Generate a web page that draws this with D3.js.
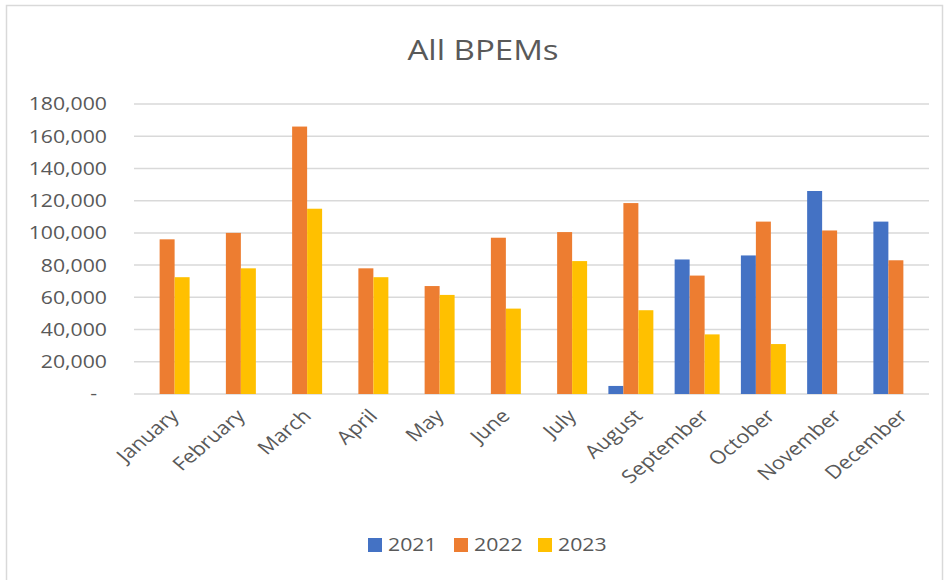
<!DOCTYPE html>
<html>
<head>
<meta charset="utf-8">
<script src="https://cdn.jsdelivr.net/npm/d3@7"></script>
<style>
  body { margin: 0; background: #fff; }
  text { font-family: "Open Sans", sans-serif; fill: #595959; }
</style>
</head>
<body>
<div id="chart"></div>
<script>

var months = ["January", "February", "March", "April", "May", "June",
              "July", "August", "September", "October", "November", "December"];
var years = ["2021", "2022", "2023"];
var values2021 = [null, null, null, null, null, null, null, 5000, 83500, 86000, 126000, 107000];
var values2022 = [96000, 100000, 166000, 78000, 67000, 97000, 100500, 118500, 73500, 107000, 101500, 83000];
var values2023 = [72500, 78000, 115000, 72500, 61500, 53000, 82500, 52000, 37000, 31000, null, null];
var yTicks = [0, 20000, 40000, 60000, 80000, 100000, 120000, 140000, 160000, 180000];
var colors = ["#4472C4", "#ED7D31", "#FFC000"];

function drawChart () {

    var width = 945,
        height = 580,
        margin = {top: 104, left: 134, bottom: 186, right: 16},
        stretch = 1.18;   // text in the picture is a bit wider than normal

    var svg = d3.select("#chart").append("svg")
        .attr("width", width)
        .attr("height", height);

    // chart frame
    svg.append("rect")
        .attr("x", 6.5).attr("y", 5.5)
        .attr("width", 936).attr("height", 600)
        .attr("fill", "none")
        .attr("stroke", "#d9d9d9")
        .attr("stroke-width", 1.5);

    var x = d3.scaleBand()
        .domain(months)
        .range([margin.left, width - margin.right]);

    var xSeries = d3.scaleBand()
        .domain(years)
        .range([0, x.bandwidth()])
        .paddingOuter(0.71);

    var y = d3.scaleLinear()
        .domain([0, 180000])
        .range([height - margin.bottom, margin.top]);

    // gridlines
    svg.selectAll(".grid")
        .data(yTicks)
        .enter()
        .append("line")
        .attr("x1", margin.left)
        .attr("x2", width - margin.right)
        .attr("y1", function (d) { return y(d); })
        .attr("y2", function (d) { return y(d); })
        .attr("stroke", "#d9d9d9")
        .attr("stroke-width", 1.5);

    // y labels
    svg.selectAll(".yLabel")
        .data(yTicks)
        .enter()
        .append("text")
        .attr("text-anchor", "end")
        .attr("font-size", 18)
        .attr("dy", "0.36em")
        .attr("transform", function (d) {
            var xx = d === 0 ? 97 : 107;
            return "translate(" + xx + "," + y(d) + ") scale(" + stretch + ",1)";
        })
        .text(function (d) { return d === 0 ? "-" : d3.format(",")(d); });

    // bars
    var data = [];
    [values2021, values2022, values2023].forEach(function (vals, s) {
        vals.forEach(function (v, i) {
            if (v !== null) data.push({month: months[i], year: years[s], value: v, s: s});
        });
    });

    svg.selectAll(".bar")
        .data(data)
        .enter()
        .append("rect")
        .attr("x", function (d) { return x(d.month) + xSeries(d.year); })
        .attr("y", function (d) { return y(d.value); })
        .attr("width", xSeries.bandwidth())
        .attr("height", function (d) { return y(0) - y(d.value); })
        .attr("fill", function (d) { return colors[d.s]; });

    // x labels
    svg.selectAll(".xLabel")
        .data(months)
        .enter()
        .append("text")
        .attr("text-anchor", "end")
        .attr("font-size", 18.5)
        .attr("dy", "0.7em")
        .attr("transform", function (d) {
            var cx = x(d) + x.bandwidth() / 2;
            return "translate(" + (cx + 2) + ",408) scale(" + stretch + ",1) rotate(-45)";
        })
        .text(function (d) { return d; });

    // title
    svg.append("text")
        .attr("text-anchor", "middle")
        .attr("font-size", 28)
        .attr("transform", "translate(483,60) scale(" + stretch + ",1)")
        .text("All BPEMs");

    // legend
    var legendX = [368, 454, 538];
    var legend = svg.selectAll(".legend")
        .data(years)
        .enter()
        .append("g")
        .attr("transform", function (d, i) { return "translate(" + legendX[i] + ",538)"; });

    legend.append("rect")
        .attr("width", 14)
        .attr("height", 14)
        .attr("fill", function (d, i) { return colors[i]; });

    legend.append("text")
        .attr("font-size", 18)
        .attr("dy", "0.36em")
        .attr("transform", "translate(20,7) scale(" + stretch + ",1)")
        .text(function (d) { return d; });
};

drawChart();
</script>
</body>
</html>
